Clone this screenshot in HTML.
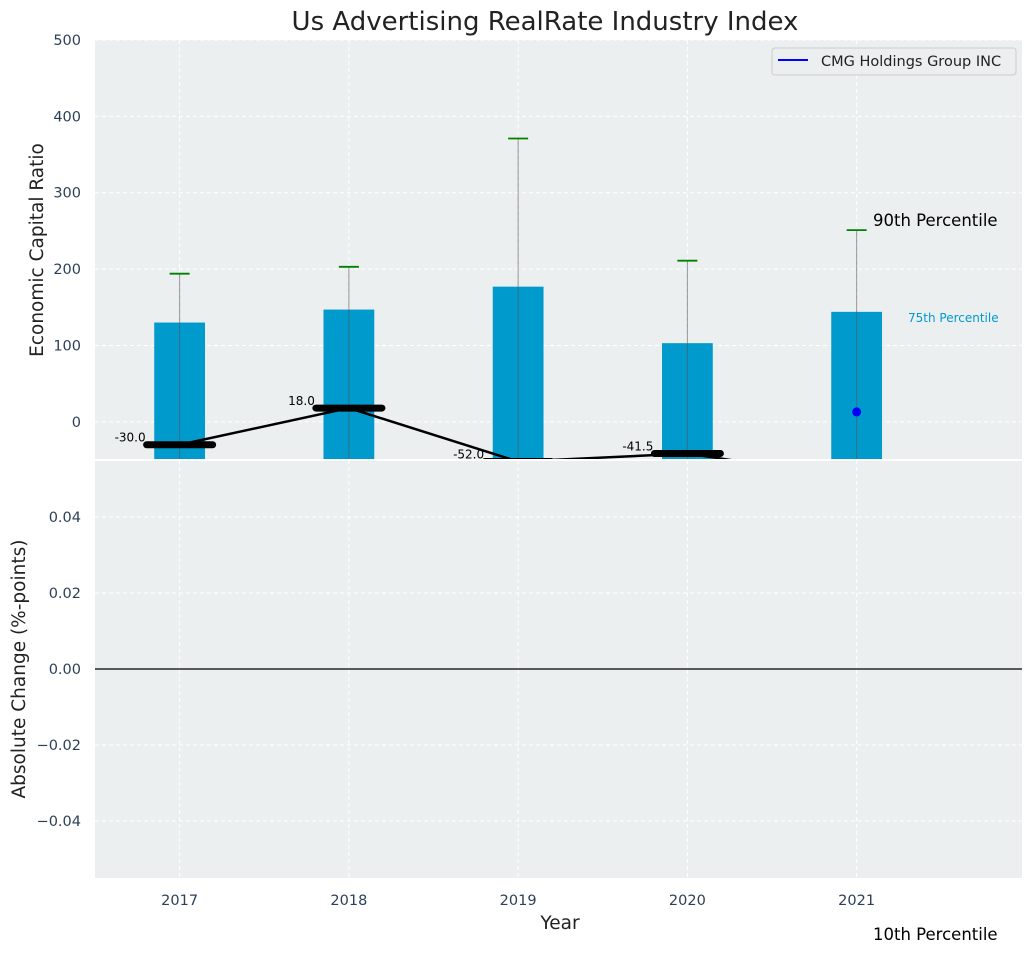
<!DOCTYPE html>
<html><head><meta charset="utf-8"><style>
body{margin:0;background:#fff;font-family:"DejaVu Sans","Liberation Sans",sans-serif}
svg text{font-family:"DejaVu Sans","Liberation Sans",sans-serif}
</style></head><body>
<svg id="c" width="1034" height="954" xmlns="http://www.w3.org/2000/svg"></svg>
<script>
const years=[2017,2018,2019,2020,2021];
const bar75=[130,147,177,103,144];
const cap90=[194,203,371,211,251];
const companyRatio=[-30,18,-52,-41.5,-75];
const labelVals=["-30.0","18.0","-52.0","-41.5"];
const companyDot=[13];
const topTicks=[0,100,200,300,400,500];
const botTicks=[-0.04,-0.02,0,0.02,0.04];

const NS="http://www.w3.org/2000/svg";
const svg=document.getElementById('c');
function el(t,a,p){const e=document.createElementNS(NS,t);for(const k in a)e.setAttribute(k,a[k]);(p||svg).appendChild(e);return e;}
const L=95,R=1022,T1=40,B1=460,T2=460,B2=878;
const x=v=>L+(v-2016.5)/(2021.977-2016.5)*(R-L);
const y1=v=>T1+(500-v)/(550)*(B1-T1);
const y2=v=>T2+(0.055-v)/0.11*(B2-T2);

let t=el('text',{x:545,y:30,'text-anchor':'middle','font-size':26,fill:'#222'});t.textContent='Us Advertising RealRate Industry Index';


el('defs',{}).innerHTML='<clipPath id="cp1"><rect x="95" y="40" width="927" height="420"/></clipPath>';
let bg=el('rect',{x:L,y:T1,width:R-L,height:B1-T1,fill:'#ebeff0'});

let g1=el('g',{'clip-path':'url(#cp1)'});
topTicks.forEach(v=>{el('line',{x1:L,x2:R,y1:y1(v),y2:y1(v),stroke:'#fff','stroke-dasharray':'4,3','stroke-width':1},g1);
 let tt=el('text',{x:81,y:y1(v)+5,'text-anchor':'end','font-size':14.5,fill:'#2e4057'});tt.textContent=v;
 });
years.forEach(v=>el('line',{x1:x(v),x2:x(v),y1:T1,y2:B1,stroke:'#fff','stroke-dasharray':'4,3'},g1));
const bw=x(2017.15)-x(2017);
years.forEach((v,i)=>{
 let b=el('rect',{x:x(v)-bw,y:y1(bar75[i]),width:2*bw,height:y1(-50)-y1(bar75[i]),fill:'#009acd'},g1);
 
 el('line',{x1:x(v),x2:x(v),y1:y1(cap90[i]),y2:y1(-50),stroke:'#555','stroke-opacity':0.6,'stroke-width':1},g1);
 let c=el('line',{x1:x(v)-10,x2:x(v)+10,y1:y1(cap90[i]),y2:y1(cap90[i]),stroke:'green','stroke-width':1.8},g1);
 
});
let pts=years.map((v,i)=>x(v)+','+y1(companyRatio[i])).join(' ');
let pl=el('polyline',{points:pts,fill:'none',stroke:'#000','stroke-width':2.5},g1);

years.forEach((v,i)=>{let m=el('line',{x1:x(v)-33,x2:x(v)+33,y1:y1(companyRatio[i]),y2:y1(companyRatio[i]),stroke:'#000','stroke-width':7,'stroke-linecap':'round'},g1);
 });
labelVals.forEach((s,i)=>{let tt=el('text',{x:x(years[i])-34,y:y1(companyRatio[i])-3,'text-anchor':'end','font-size':12,fill:'#000'});tt.textContent=s;
 });
let dot=el('circle',{cx:x(2021),cy:y1(companyDot[0]),r:4.5,fill:'blue'},g1);

t=el('text',{x:873,y:226,'font-size':16.5,fill:'#000'});t.textContent='90th Percentile';
t=el('text',{x:908,y:322,'font-size':12,fill:'#009acd'});t.textContent='75th Percentile';
let lg=el('g',{});
el('rect',{x:772,y:48,width:244,height:27,rx:3,fill:'#ebeff0',stroke:'#ccc'},lg);
el('line',{x1:778,x2:808,y1:60,y2:60,stroke:'blue','stroke-width':2},lg);
t=el('text',{x:821,y:66,'font-size':14.5,fill:'#222'},lg);t.textContent='CMG Holdings Group INC';
t=el('text',{x:0,y:0,'font-size':18.5,fill:'#222','text-anchor':'middle',transform:'translate(43,250) rotate(-90)'});t.textContent='Economic Capital Ratio';


let bg2=el('rect',{x:L,y:T2,width:R-L,height:B2-T2,fill:'#ebeff0'});

el('line',{x1:L,x2:R,y1:T2,y2:T2,stroke:'#fff','stroke-width':2});
botTicks.forEach(v=>{if(v!==0)el('line',{x1:L,x2:R,y1:y2(v),y2:y2(v),stroke:'#fff','stroke-dasharray':'4,3'});
 let tt=el('text',{x:81,y:y2(v)+5,'text-anchor':'end','font-size':14.5,fill:'#2e4057'});tt.textContent=(v<0?'\u2212':'')+Math.abs(v).toFixed(2);
 });
years.forEach(v=>{el('line',{x1:x(v),x2:x(v),y1:T2,y2:B2,stroke:'#fff','stroke-dasharray':'4,3'});
 let tt=el('text',{x:x(v),y:905,'text-anchor':'middle','font-size':14.5,fill:'#2e4057'});tt.textContent=v;
 });
let z=el('line',{x1:L,x2:R,y1:y2(0),y2:y2(0),stroke:'#000','stroke-width':1.2});

t=el('text',{x:0,y:0,'font-size':18.5,fill:'#222','text-anchor':'middle',transform:'translate(25,669) rotate(-90)'});t.textContent='Absolute Change (%-points)';

t=el('text',{x:560,y:929,'font-size':18.5,fill:'#222','text-anchor':'middle'});t.textContent='Year';

t=el('text',{x:873,y:940,'font-size':16.5,fill:'#000'});t.textContent='10th Percentile';
</script>
</body></html>
